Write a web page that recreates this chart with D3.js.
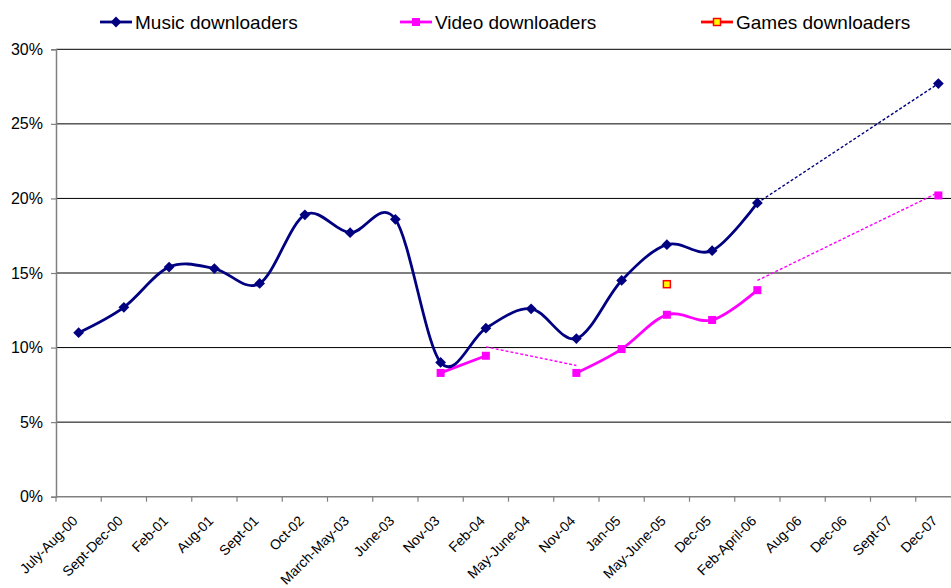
<!DOCTYPE html>
<html>
<head>
<meta charset="utf-8">
<script src="https://cdn.jsdelivr.net/npm/d3@7"></script>
<style>
  html, body { margin: 0; padding: 0; background: #fff; }
  svg { display: block; font-family: "Liberation Sans", Arial, sans-serif; }
</style>
</head>
<body>
<svg id="chart" width="951" height="588"></svg>
<script>
const categories = ["July-Aug-00", "Sept-Dec-00", "Feb-01", "Aug-01", "Sept-01", "Oct-02",
  "March-May-03", "June-03", "Nov-03", "Feb-04", "May-June-04", "Nov-04", "Jan-05",
  "May-June-05", "Dec-05", "Feb-April-06", "Aug-06", "Dec-06", "Sept-07", "Dec-07"];

const musicValues = [11.0, 12.7, 15.4, 15.3, 14.3, 18.9, 17.7, 18.6, 9.0, 11.3, 12.6, 10.6,
  14.5, 16.9, 16.5, 19.7, null, null, null, 27.7];
const videoValues = [null, null, null, null, null, null, null, null, 8.3, 9.45, null, 8.3,
  9.9, 12.2, 11.85, 13.85, null, null, null, 20.2];
const gamesValues = [null, null, null, null, null, null, null, null, null, null, null, null,
  null, 14.25, null, null, null, null, null, null];

// dashed connector segments (start category/value, end category/value)
const musicDashed = [{ from: "Feb-April-06", v0: 19.7, to: "Dec-07", v1: 27.7 }];
const videoDashed = [
  { from: "Feb-04", v0: 10.05, to: "Nov-04", v1: 8.8 },
  { from: "Feb-April-06", v0: 14.5, to: "Dec-07", v1: 20.4 }
];

const yTicks = [0, 5, 10, 15, 20, 25, 30];
const seriesNames = ["Music downloaders", "Video downloaders", "Games downloaders"];

const svg = d3.select("#chart");
const plotLeft = 56, plotRight = 961, plotTop = 49.3, plotBottom = 496.7;

const x = d3.scaleBand().domain(categories).range([plotLeft, plotRight]);
const y = d3.scaleLinear().domain([0, 30]).range([plotBottom, plotTop]);
const cx = c => x(c) + x.bandwidth() / 2;

// gridlines
svg.append("g").selectAll("line").data(yTicks.filter(t => t > 0)).join("line")
  .attr("x1", plotLeft).attr("x2", 951)
  .attr("y1", d => y(d)).attr("y2", d => y(d))
  .attr("stroke", "#000").attr("stroke-width", 1);

// y axis
const yAxis = svg.append("g").attr("transform", `translate(${plotLeft},0)`)
  .call(d3.axisLeft(y).tickValues(yTicks).tickFormat(d => d + "%").tickSize(5).tickPadding(8));
yAxis.select(".domain").attr("stroke", "#808080").attr("stroke-width", 1.5);
yAxis.selectAll(".tick line").attr("stroke", "#808080").attr("stroke-width", 1.2);
yAxis.selectAll(".tick text").attr("font-size", "16px").attr("fill", "#000")
  .attr("font-family", "Liberation Sans, Arial, sans-serif");

// x axis (ticks at band boundaries)
const xg = svg.append("g");
xg.append("line").attr("x1", plotLeft).attr("x2", 951).attr("y1", plotBottom).attr("y2", plotBottom)
  .attr("stroke", "#808080").attr("stroke-width", 1.5);
xg.selectAll("line.tk").data(categories).join("line").attr("class", "tk")
  .attr("x1", d => x(d)).attr("x2", d => x(d))
  .attr("y1", plotBottom).attr("y2", plotBottom + 5)
  .attr("stroke", "#808080").attr("stroke-width", 1.2);
xg.selectAll("text").data(categories).join("text")
  .attr("transform", d => `translate(${cx(d)},${plotBottom + 25}) rotate(-45)`)
  .attr("text-anchor", "end")
  .attr("font-size", "14px")
  .attr("fill", "#000")
  .text(d => d);

// dashed connectors
function drawDashed(list, color) {
  svg.append("g").selectAll("line").data(list).join("line")
    .attr("x1", d => cx(d.from)).attr("y1", d => y(d.v0))
    .attr("x2", d => cx(d.to)).attr("y2", d => y(d.v1))
    .attr("stroke", color).attr("stroke-width", 1.4)
    .attr("stroke-dasharray", "3,2");
}
drawDashed(musicDashed, "#000080");
drawDashed(videoDashed, "#FF00FF");

const line = d3.line()
  .defined(d => d.v != null)
  .x(d => cx(d.c)).y(d => y(d.v))
  .curve(d3.curveCatmullRom.alpha(0));

const musicData = categories.map((c, i) => ({ c, v: musicValues[i] }));
const videoData = categories.map((c, i) => ({ c, v: videoValues[i] }));
const gamesData = categories.map((c, i) => ({ c, v: gamesValues[i] }));

svg.append("path").datum(videoData).attr("d", line)
  .attr("fill", "none").attr("stroke", "#FF00FF").attr("stroke-width", 2.8);
svg.append("path").datum(musicData).attr("d", line)
  .attr("fill", "none").attr("stroke", "#000080").attr("stroke-width", 2.8);

const diamond = d3.symbol().type(d3.symbolSquare).size(58);

// markers
svg.append("g").selectAll("path").data(musicData.filter(d => d.v != null)).join("path")
  .attr("transform", d => `translate(${cx(d.c)},${y(d.v)}) rotate(45)`)
  .attr("d", diamond).attr("fill", "#000080");
svg.append("g").selectAll("rect").data(videoData.filter(d => d.v != null)).join("rect")
  .attr("x", d => cx(d.c) - 4).attr("y", d => y(d.v) - 4)
  .attr("width", 8).attr("height", 8).attr("fill", "#FF00FF");
svg.append("g").selectAll("rect").data(gamesData.filter(d => d.v != null)).join("rect")
  .attr("x", d => cx(d.c) - 3.5).attr("y", d => y(d.v) - 3.5)
  .attr("width", 7).attr("height", 7).attr("fill", "#FFFF00")
  .attr("stroke", "#FF0000").attr("stroke-width", 1.5);

// legend
const legendX = [100, 400, 701];
const legendColors = ["#000080", "#FF00FF", "#FF0000"];
const lg = svg.append("g");
seriesNames.forEach((name, i) => {
  const g = lg.append("g").attr("transform", `translate(${legendX[i]},22)`);
  g.append("line").attr("x1", 0).attr("x2", 32).attr("y1", 0).attr("y2", 0)
    .attr("stroke", legendColors[i]).attr("stroke-width", 2.8);
  if (i === 0) {
    g.append("path").attr("transform", "translate(16,0) rotate(45)").attr("d", diamond)
      .attr("fill", "#000080");
  } else if (i === 1) {
    g.append("rect").attr("x", 12).attr("y", -4).attr("width", 8).attr("height", 8)
      .attr("fill", "#FF00FF");
  } else {
    g.append("rect").attr("x", 12.5).attr("y", -3.5).attr("width", 7).attr("height", 7)
      .attr("fill", "#FFFF00").attr("stroke", "#FF0000").attr("stroke-width", 1.5);
  }
  g.append("text").attr("x", 35).attr("y", 7).attr("font-size", "19px").attr("fill", "#000")
    .text(name);
});
</script>
</body>
</html>
